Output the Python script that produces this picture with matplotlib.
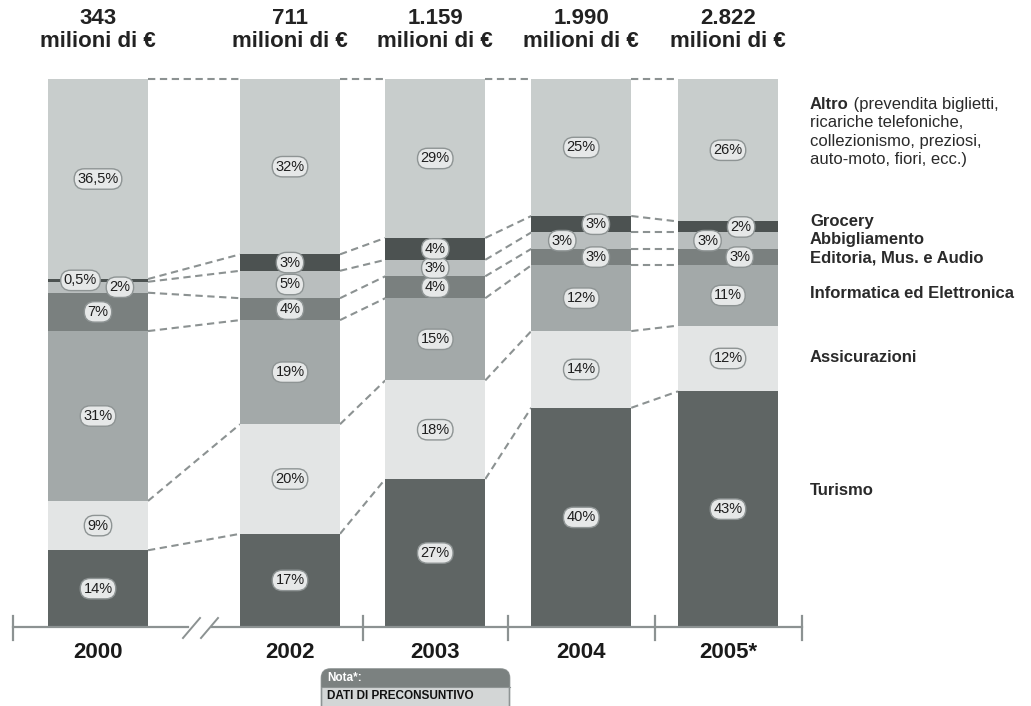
import numpy as np
import matplotlib
matplotlib.use("Agg")
import matplotlib.pyplot as plt
from matplotlib.patches import FancyBboxPatch, Rectangle

plt.rcParams['font.family'] = ['Liberation Sans', 'DejaVu Sans']

# e-commerce in Italia: ripartizione per settore (%)
years = ['2000', '2002', '2003', '2004', '2005*']
totals = [343, 711, 1159, 1990, 2822]  # milioni di euro

turismo = [14, 17, 27, 40, 43]
assicurazioni = [9, 20, 18, 14, 12]
informatica = [31, 19, 15, 12, 11]
editoria = [7, 4, 4, 3, 3]
abbigliamento = [2, 5, 3, 3, 3]
grocery = [0.5, 3, 4, 3, 2]
altro = [36.5, 32, 29, 25, 26]

series = [turismo, assicurazioni, informatica, editoria, abbigliamento, grocery, altro]
colors = ['#5f6564', '#e3e5e5', '#a3a9a9', '#7a807f', '#b9bebe', '#4c5251', '#c8cdcc']

# layout: one unit = 146 px, bar centres, y in percent
xpos = np.array([0, 1.315, 2.31, 3.31, 4.315])
width = 0.685
px_x = 146.0
px_y = 5.48


def fy(py):
    # pixel row -> percent axis
    return (627 - py) / px_y


def fx(px):
    return (px - 98) / px_x


fig = plt.figure(figsize=(10.31, 7.06), dpi=100)
ax = fig.add_axes([0, 0, 1, 1])
ax.set_xlim(fx(0), fx(1031))
ax.set_ylim(fy(706), fy(0))
ax.axis('off')

data = np.array(series, dtype=float)
bottoms = np.vstack([np.zeros(len(years)), np.cumsum(data, axis=0)[:-1]])
tops = np.cumsum(data, axis=0)

for vals, bot, col in zip(data, bottoms, colors):
    ax.bar(xpos, vals, width=width, bottom=bot, color=col, edgecolor='none', zorder=2)

# dashed connectors between segment boundaries
for i in range(len(years) - 1):
    for k in range(len(series)):
        ax.plot([xpos[i] + width / 2, xpos[i + 1] - width / 2],
                [tops[k, i], tops[k, i + 1]],
                color='#8c9292', lw=1.5, linestyle=(0, (3.5, 2.2)), zorder=1)

# label offsets for thin bands
x_shift = {(5, 0): -0.12, (4, 0): 0.15,
           (5, 3): 0.10, (4, 3): -0.13, (3, 3): 0.10,
           (5, 4): 0.09, (4, 4): -0.14, (3, 4): 0.08}

bubble = dict(boxstyle='round,pad=0.22,rounding_size=0.7', fc='#e6e8e8',
              ec='#8e9494', lw=1.0)
for k in range(len(series)):
    for i in range(len(years)):
        v = data[k, i]
        lbl = (f"{v:g}".replace('.', ',')) + '%'
        cy = (bottoms[k, i] + tops[k, i]) / 2
        cx = xpos[i] + x_shift.get((k, i), 0)
        ax.text(cx, cy, lbl, ha='center', va='center', fontsize=10.5,
                color='#1e1e1e', bbox=bubble, zorder=4)

# totals above bars
for x, t in zip(xpos, totals):
    s = f"{t:,}".replace(',', '.')
    ax.text(x, fy(30), f"{s}\nmilioni di €", ha='center', va='center',
            fontsize=16, fontweight='bold', color='#222222', linespacing=1.1)

# x axis with break
axc = '#8c9292'
ax.plot([fx(13), fx(188)], [0, 0], color=axc, lw=1.6, zorder=3)
ax.plot([fx(212), fx(802)], [0, 0], color=axc, lw=1.6, zorder=3)
for tx in [13, 363, 508, 655, 802]:
    ax.plot([fx(tx), fx(tx)], [fy(640), fy(616)], color=axc, lw=1.6, zorder=3)
for sx in [183, 201]:
    ax.plot([fx(sx), fx(sx + 17)], [fy(638), fy(618)], color=axc, lw=1.4, zorder=3)

for x, yr in zip(xpos, years):
    ax.text(x, fy(652), yr, ha='center', va='center', fontsize=16,
            fontweight='bold', color='#1a1a1a')

# category labels on the right
lx = fx(810)
fs = 12
t_altro = ax.text(lx, fy(112), 'Altro', ha='left', va='bottom', fontsize=fs,
                  fontweight='bold', color='#2a2a2a')
ax.annotate(' (prevendita biglietti,', xy=(1, 0), xycoords=t_altro,
            ha='left', va='bottom', fontsize=fs, color='#2a2a2a')
for j, line in enumerate(['ricariche telefoniche,', 'collezionismo, preziosi,',
                          'auto-moto, fiori, ecc.)']):
    ax.text(lx, fy(112 + 18.5 * (j + 1)), line, ha='left', va='bottom',
            fontsize=fs, color='#2a2a2a')

cat_labels = [('Grocery', 222), ('Abbigliamento', 240), ('Editoria, Mus. e Audio', 258),
              ('Informatica ed Elettronica', 294), ('Assicurazioni', 358), ('Turismo', 491)]
for name, py in cat_labels:
    ax.text(lx, fy(py), name, ha='left', va='center', fontsize=fs,
            fontweight='bold', color='#2a2a2a')

# note box
nax = fig.add_axes([320 / 1031, 0, 192 / 1031, 40 / 706])
nax.set_xlim(0, 192)
nax.set_ylim(0, 40)
nax.axis('off')
box = FancyBboxPatch((1.5, -10), 188, 47, boxstyle='round,pad=0,rounding_size=9',
                     fc='#d3d6d6', ec='#8e9494', lw=1.2, clip_on=False)
nax.add_patch(box)
top = Rectangle((0, 19), 192, 20, fc='#7b8180', ec='none')
nax.add_patch(top)
top.set_clip_path(box)
nax.plot([1.5, 189.5], [19, 19], color='#8e9494', lw=0.8)
nax.text(7, 28, 'Nota*:', ha='left', va='center', fontsize=8.5,
         fontweight='bold', color='white')
nax.text(7, 10, 'DATI DI PRECONSUNTIVO', ha='left', va='center', fontsize=8.5,
         fontweight='bold', color='#111111')

fig.savefig('out.png', dpi=100, facecolor='white')
